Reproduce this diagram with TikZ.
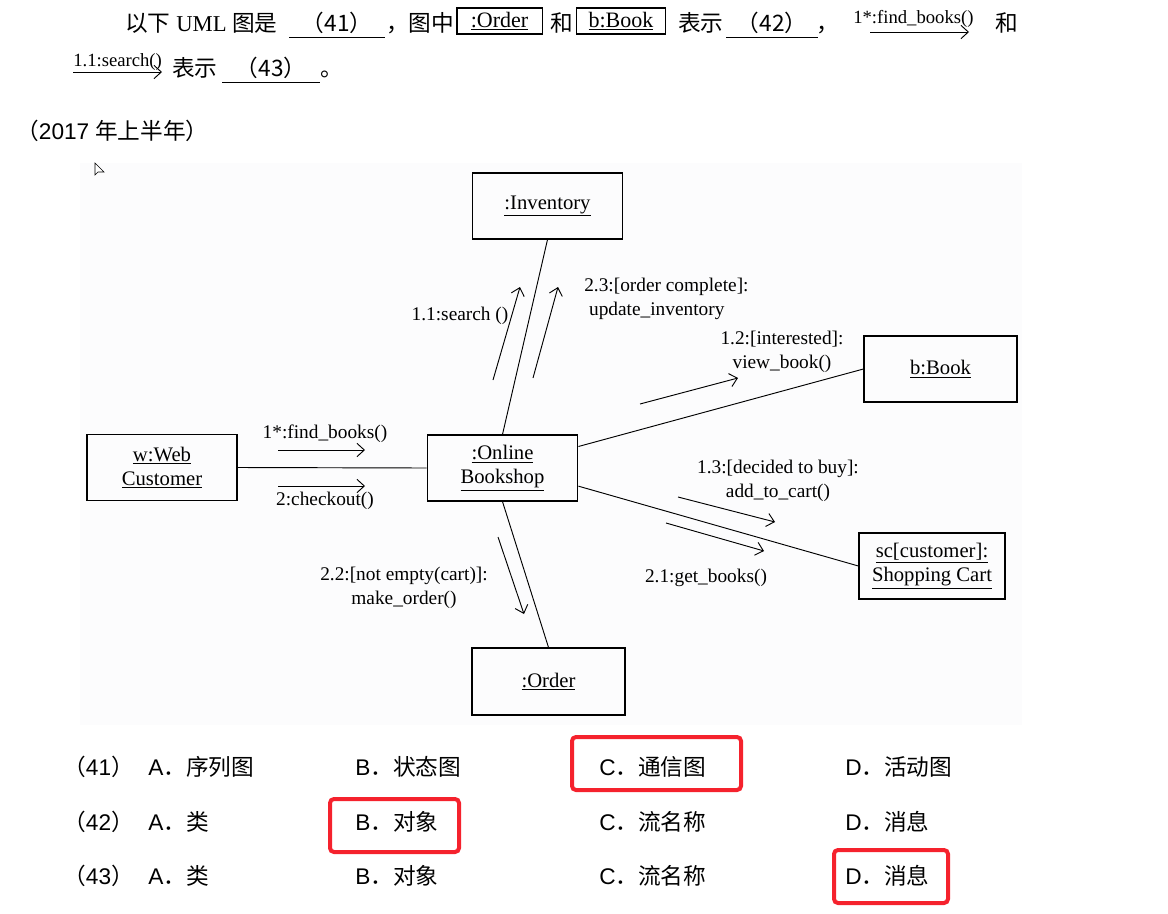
\documentclass[tikz,border=0pt]{standalone}
\usepackage{fontspec}
\setmainfont{Liberation Serif}
\setsansfont{Liberation Sans}
\newfontfamily\zh{Noto Sans CJK SC}
\usetikzlibrary{arrows.meta,calc}
\definecolor{Pick}{HTML}{F5222D}
\definecolor{Paper}{HTML}{FCFCFD}
\newcommand\choice[2]{{\sffamily #1}{\zh ．#2}}

\tikzset{
  obj/.style={draw,line width=0.9pt,align=center,inner sep=2pt,minimum width=113pt,minimum height=49.5pt,font=\fontsize{15.5}{18}\selectfont},
  lnk/.style={line width=0.7pt},
  msg/.style={->,line width=0.7pt},
  lbl/.style={inner sep=0pt,align=center,font=\fontsize{14.5}{18}\selectfont},
  tbox/.style={draw,line width=1pt,inner sep=0pt,minimum height=19.5pt,font=\fontsize{16.5}{18}\selectfont},
  tline/.style={anchor=base west,inner sep=0pt,font=\fontsize{17}{20}\selectfont},
  gap/.style={anchor=base,inner sep=0pt,font=\zh\fontsize{17}{20}\selectfont},
  tmsg/.style={anchor=base west,inner sep=0pt,font=\fontsize{14}{15}\selectfont},
  opt/.style={anchor=base west,inner sep=0pt,font=\fontsize{17}{20}\selectfont},
  pick/.style={draw=Pick,line width=3pt,rounded corners=3pt},
}

\begin{document}
\begin{tikzpicture}[x=0.75pt,y=-0.75pt,>={Straight Barb[length=5.5pt,width=10pt]}]
  \useasboundingbox (0,0) rectangle (1168,914);

  % question text
  \node[tline] (t1) at (125,31) {{\zh 以下} UML {\zh 图是}};
  \node[gap,minimum width=71pt] (b41) at (337,31) {（41）};
  \draw ([yshift=-4.5pt]b41.base west) -- ([yshift=-4.5pt]b41.base east);
  \node[tline] (t2) at (386,31) {\zh ，图中};
  \node[tbox,minimum width=64pt] (tord) at (499.5,21) {\underline{:Order}};
  \node[tline] (t3) at (550,31) {\zh 和};
  \node[tbox,minimum width=67pt] (tbook) at (621,21) {\underline{b:Book}};
  \node[tline] (t4) at (678,31) {\zh 表示};
  \node[gap,minimum width=68pt] (b42) at (772,31) {（42）};
  \draw ([yshift=-4.5pt]b42.base west) -- ([yshift=-4.5pt]b42.base east);
  \node[tline] (t5) at (816,31) {\zh ，};
  \node[tmsg] (tf) at (853,23) {1*:find\_books()};
  \coordinate (tf1) at (870,32);
  \coordinate (tf2) at (969,32);
  \draw[msg] (tf1) -- (tf2);
  \node[tline] (t6) at (995,31) {\zh 和};

  \node[tmsg] (ts) at (73,66) {1.1:search()};
  \coordinate (ts1) at (73,72);
  \coordinate (ts2) at (162,72);
  \draw[msg] (ts1) -- (ts2);
  \node[tline] (t7) at (172,76) {\zh 表示};
  \node[gap,minimum width=73pt] (b43) at (271,76) {（43）};
  \draw ([yshift=-4.5pt]b43.base west) -- ([yshift=-4.5pt]b43.base east);
  \node[tline] (t8) at (320,76) {\zh 。};

  \node[tline] (yr) at (16,139) {{\zh （}{\sffamily 2017} {\zh 年上半年）}};

  % diagram
  \fill[Paper] (80,163) rectangle (1022,725);
  \draw[line width=0.4pt,fill=white] (95,163) -- (95,175) -- (98,172) -- (104,172) -- cycle;

  \node[obj] (inv) at (547.5,206) {\underline{:Inventory}};
  \node[obj] (shop) at (502.5,468) {\underline{:Online}\\\underline{Bookshop}};
  \node[obj,minimum width=112.5pt] (web) at (162,467.5) {\underline{w:Web}\\\underline{Customer}};
  \node[obj,minimum width=114.75pt] (book) at (940.5,369) {\underline{b:Book}};
  \node[obj,minimum width=109.5pt] (cart) at (932,566) {\underline{sc[customer]:}\\\underline{Shopping Cart}};
  \node[obj,minimum width=114.75pt,minimum height=50.25pt] (order) at (548.5,681.5) {\underline{:Order}};

  \draw[lnk] (web.east) -- (shop.west);
  \draw[lnk] (shop.north) -- (inv.south);
  \draw[lnk] (shop.south) -- (order.north);
  \draw[lnk] ($(shop.north east)!0.18!(shop.south east)$) -- (book.west);
  \draw[lnk] ($(shop.north east)!0.77!(shop.south east)$) -- (cart.west);

  % messages
  \foreach \n/\xa/\ya/\xb/\yb in {find/278/450/365/450, chk/278/486/365/486, srch/493/380/520/287,
      upd/533/378/558/287, view/640/404/738/378, add/678/497/775/522,
      get/666/523/764/551, make/498/537/524/614} {
    \coordinate (\n1) at (\xa,\ya);
    \coordinate (\n2) at (\xb,\yb);
    \draw[msg] (\n1) -- (\n2);
  }
  \node[lbl] (lfind) at (325,434) {1*:find\_books()};
  \node[lbl] (lchk) at (325,501) {2:checkout()};
  \node[lbl] (lsrch) at (460,316) {1.1:search ()};
  \node[lbl,align=left,anchor=west] (lupd) at (584,299) {2.3:[order complete]:\\\ update\_inventory};
  \node[lbl] (lview) at (782,352) {1.2:[interested]:\\view\_book()};
  \node[lbl] (ladd) at (778,481) {1.3:[decided to buy]:\\add\_to\_cart()};
  \node[lbl] (lget) at (706,578) {2.1:get\_books()};
  \node[lbl] (lmake) at (404,588) {2.2:[not empty(cart)]:\\make\_order()};

  % choices
  \foreach \y/\q/\a/\b/\c/\d in {775/41/序列图/状态图/通信图/活动图,
      830/42/类/对象/流名称/消息, 884/43/类/对象/流名称/消息} {
    \node[opt] (q\q) at (63,\y) {{\zh （}{\sffamily \q}{\zh ）}};
    \node[opt] (a\q) at (148,\y) {\choice{A}{\a}};
    \node[opt] (b\q) at (355,\y) {\choice{B}{\b}};
    \node[opt] (c\q) at (599,\y) {\choice{C}{\c}};
    \node[opt] (d\q) at (845,\y) {\choice{D}{\d}};
  }
  \draw[pick] (572,737) rectangle (741,790);
  \draw[pick] (330,799) rectangle (459,852);
  \draw[pick] (834,850) rectangle (948,903);
\end{tikzpicture}
\end{document}
